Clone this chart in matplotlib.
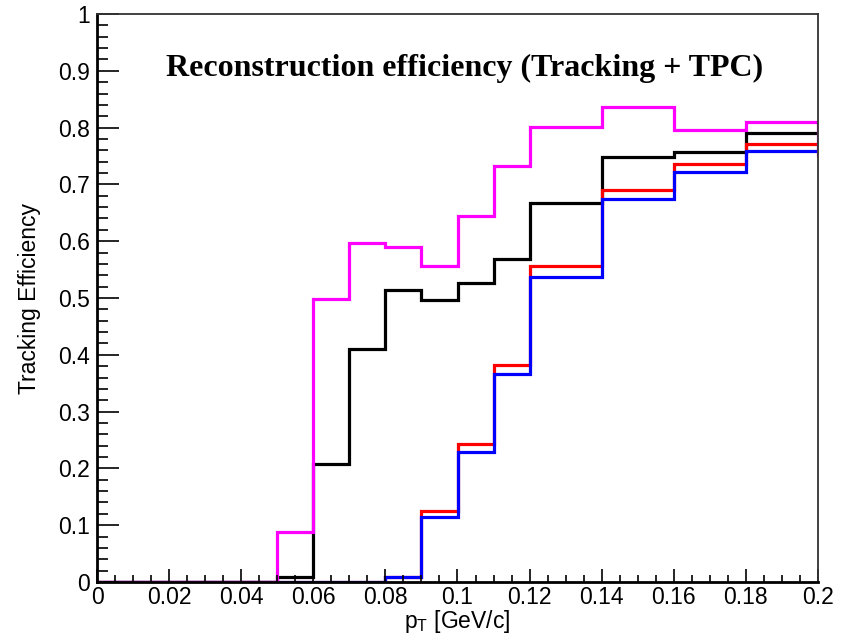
import numpy as np
import matplotlib
matplotlib.use('Agg')
import matplotlib.pyplot as plt
from matplotlib.ticker import MultipleLocator, FuncFormatter

# Bin edges in pT (GeV/c): 10 MeV bins up to 0.12, then 20 MeV bins
edges = [0, 0.01, 0.02, 0.03, 0.04, 0.05, 0.06, 0.07, 0.08, 0.09,
         0.10, 0.11, 0.12, 0.14, 0.16, 0.18, 0.20]

# Efficiency per bin for each sample
eff_black = [0, 0, 0, 0, 0, 0.008, 0.207, 0.411, 0.514, 0.496,
             0.527, 0.568, 0.668, 0.749, 0.757, 0.790]
eff_red = [0, 0, 0, 0, 0, 0, 0, 0, 0.009, 0.125,
           0.243, 0.382, 0.557, 0.690, 0.736, 0.772]
eff_blue = [0, 0, 0, 0, 0, 0, 0, 0, 0.009, 0.115,
            0.228, 0.367, 0.537, 0.675, 0.722, 0.759]
eff_magenta = [0, 0, 0, 0, 0, 0.088, 0.498, 0.597, 0.589, 0.556,
               0.644, 0.732, 0.801, 0.837, 0.796, 0.809]
# magenta histogram continues past the frame edge
magenta_next = 0.752

plt.rcParams['font.family'] = ['Liberation Sans', 'DejaVu Sans']
plt.rcParams['mathtext.fontset'] = 'custom'
plt.rcParams['mathtext.rm'] = 'Liberation Sans'

fig = plt.figure(figsize=(8.44, 6.34), dpi=100)
ax = fig.add_axes([97 / 844, 1 - 582 / 634, 721 / 844, 568 / 634])

lw = 2.3
ax.stairs(eff_black, edges, baseline=None, color='black', lw=lw)
ax.stairs(eff_red, edges, baseline=None, color='#ff0000', lw=lw)
ax.stairs(eff_blue, edges, baseline=None, color='#0000ff', lw=lw)
ax.stairs(eff_magenta + [magenta_next], edges + [0.22], baseline=None,
          color='#ff00ff', lw=lw)

ax.set_xlim(0, 0.2)
ax.set_ylim(0, 1)

ax.xaxis.set_major_locator(MultipleLocator(0.02))
ax.xaxis.set_minor_locator(MultipleLocator(0.005))
ax.yaxis.set_major_locator(MultipleLocator(0.1))
ax.yaxis.set_minor_locator(MultipleLocator(0.02))
fmt = FuncFormatter(lambda v, pos: '%g' % round(v, 3))
ax.xaxis.set_major_formatter(fmt)
ax.yaxis.set_major_formatter(fmt)

ax.tick_params(axis='both', which='both', direction='in', top=False,
               right=False, labelsize=16.5, colors='black')
ax.tick_params(axis='x', which='major', length=9.5, width=1.2, pad=3)
ax.tick_params(axis='x', which='minor', length=5, width=1.2)
ax.tick_params(axis='y', which='major', length=16, width=1.2, pad=5)
ax.tick_params(axis='y', which='minor', length=8, width=1.2)

ax.spines['left'].set_linewidth(2)
ax.spines['bottom'].set_linewidth(2)
ax.spines['top'].set_linewidth(1.3)
ax.spines['right'].set_linewidth(1.3)
ax.spines['top'].set_color('#333333')
ax.spines['right'].set_color('#333333')

ax.set_ylabel('Tracking Efficiency', fontsize=16.5)
ax.yaxis.set_label_coords(-0.077, 0.5)
ax.set_xlabel(r'p$_\mathregular{T}$ [GeV/c]', fontsize=16.5, va='top')
ax.xaxis.set_label_coords(0.5, -0.045)

ax.text(0.51, 0.905, 'Reconstruction efficiency (Tracking + TPC)',
        transform=ax.transAxes, ha='center', va='center',
        family='Liberation Serif', fontweight='bold', fontsize=23)

fig.savefig('out.png', dpi=100)
